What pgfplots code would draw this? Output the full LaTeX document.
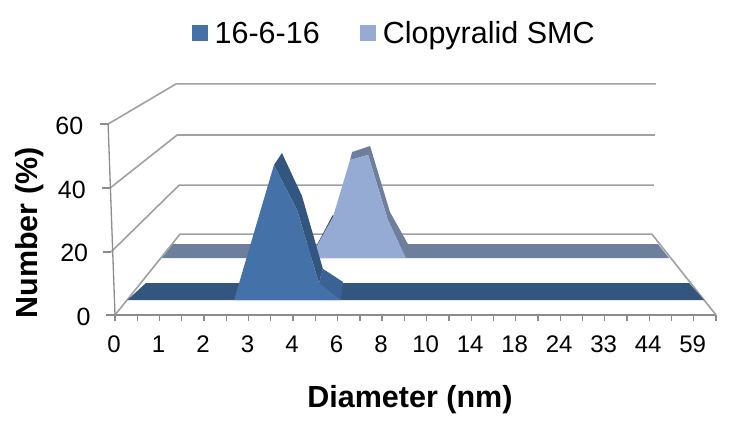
\documentclass[border=0pt]{standalone}
\usepackage{pgfplots}
\pgfplotsset{compat=1.18}
\usepackage{fontspec}
\setmainfont{Liberation Sans}
\definecolor{wallgrey}{HTML}{A0A0A0}
\definecolor{axisgrey}{HTML}{8C8C8C}
\definecolor{frontface}{HTML}{4472A8}
\definecolor{frontside}{HTML}{3A6294}
\definecolor{frontdark}{HTML}{33567F}
\definecolor{backface}{HTML}{95ABD3}
\definecolor{backdark}{HTML}{6E7F9E}
\begin{document}
\begin{tikzpicture}
\path[use as bounding box] (0,0) rectangle (736pt,429pt);
\begin{axis}[
    at={(115pt,114pt)}, anchor=origin,
    scale only axis,
    width=601pt, height=238.7pt,
    xmin=0, xmax=27, ymin=0, ymax=75,
    clip=false,
    axis x line=bottom, axis y line=left,
    axis line style={draw=axisgrey, line width=1.5pt, -},
    y axis line style={draw=none},
    xtick={0,2,...,26},
    minor xtick={1,3,...,27},
    xticklabels={0,1,2,3,4,6,8,10,14,18,24,33,44,59},
    ytick={0,20,40,60},
    tick align=outside,
    major tick length=6pt, minor tick length=6pt,
    x tick style={draw=axisgrey, line width=1.3pt},
    y tick style={draw=none},
    tick label style={font=\fontsize{24}{26}\selectfont},
    /pgf/number format/assume math mode=true,
    xticklabel style={yshift=-11pt, xshift=-1pt},
    yticklabel style={xshift=-15pt, yshift=-2pt, font=\fontsize{25}{27}\selectfont},
    yticklabel={\pgfmathsetlengthmacro\lean{\tick*0.12pt}\pgfmathprintnumber{\tick}\kern\lean},
    xlabel={\textbf{Diameter (nm)}},
    ylabel={\textbf{Number (\%)}},
    label style={font=\fontsize{30.5}{33}\selectfont},
    xlabel style={at={(axis cs:13.25,-26.7)}, anchor=center},
    ylabel style={at={(axis cs:-3.82,25.8)}, anchor=center},
    legend style={at={(axis cs:3.3,93.5)}, anchor=north west, draw=none, fill=none,
        font=\fontsize{30.5}{33}\selectfont, legend columns=2,
        /tikz/every even column/.append style={column sep=38pt},
        /tikz/every odd column/.append style={column sep=5pt}},
    legend image code/.code={\fill[#1] (0pt,-8pt) rectangle (16pt,8pt);},
]
% side walls and back wall, in front-plane axis units
\addplot[wallgrey, line width=1.6pt, forget plot] coordinates {(-0.31,60) (2.74,72.6) (24.30,72.6)};
\addplot[wallgrey, line width=1.6pt, forget plot] coordinates {(-0.22,39.9) (2.79,56.55) (24.26,56.55)};
\addplot[wallgrey, line width=1.6pt, forget plot] coordinates {(-0.18,19.8) (2.88,40.8) (24.21,40.8)};
\addplot[wallgrey, line width=1.6pt, forget plot] coordinates {(0,0) (2.92,25.4) (24.12,25.4) (27,0)};
% leaning value axis and its ticks
\addplot[axisgrey, line width=1.3pt, forget plot] coordinates {(-0.31,60) (0,0)};
\addplot[axisgrey, line width=1.3pt, forget plot] coordinates {(-0.67,60) (-0.31,60)};
\addplot[axisgrey, line width=1.3pt, forget plot] coordinates {(-0.58,39.9) (-0.22,39.9)};
\addplot[axisgrey, line width=1.3pt, forget plot] coordinates {(-0.54,19.8) (-0.18,19.8)};
\addplot[axisgrey, line width=1.3pt, forget plot] coordinates {(-0.40,0) (0,0)};
% Clopyralid SMC ribbon
\addplot[fill=backdark, draw=none, forget plot] coordinates {(2.11,17.9) (2.61,22.3) (24.39,22.3) (24.89,17.9)} -- cycle;
\addplot[fill=backdark!45!black, draw=none, forget plot] coordinates {(9.07,22.0) (9.79,31.5) (10.0,30.0) (9.3,21.0)} -- cycle;
\addplot[fill=backdark, draw=none, forget plot] coordinates {(10.56,48.7) (10.65,51.2) (11.46,53.1) (12.35,32.4) (13.16,22.3) (13.07,17.9) (12.26,29.8) (11.37,50.3)} -- cycle;
\addplot[fill=backface, draw=none, forget plot] coordinates {(8.76,17.9) (9.79,30.8) (10.56,48.7) (11.37,50.3) (12.26,29.8) (13.07,17.9)} -- cycle;
% 16-6-16 ribbon
\addplot[fill=frontdark, draw=none, forget plot] coordinates {(0.56,4.7) (1.39,10.05) (25.79,10.05) (26.46,4.7)} -- cycle;
\addplot[fill=frontdark, draw=none, forget plot] coordinates {(7.14,47.1) (7.50,50.9) (8.40,37.4) (9.34,14.5) (9.16,10.05) (8.18,33.0)} -- cycle;
\addplot[fill=frontside, draw=none, forget plot] coordinates {(9.16,10.05) (9.34,14.5) (10.24,10.4) (10.15,4.7)} -- cycle;
\addplot[fill=frontface, draw=none, forget plot] coordinates {(5.35,4.7) (7.14,47.1) (8.18,33.0) (9.16,10.05) (10.15,4.7)} -- cycle;
% legend only
\addlegendimage{fill=frontface, draw=none}
\addlegendentry{16-6-16}
\addlegendimage{fill=backface, draw=none}
\addlegendentry{Clopyralid SMC}
\end{axis}
\end{tikzpicture}
\end{document}
